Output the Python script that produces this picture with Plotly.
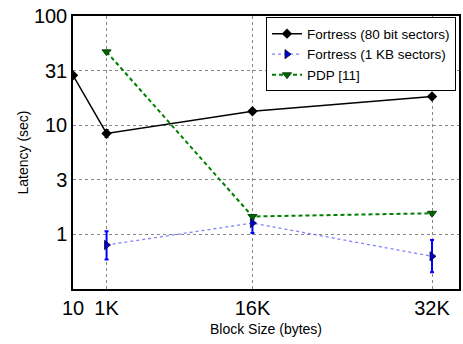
import plotly.graph_objects as go

# Data
x_labels = ["10", "1K", "16K", "32K"]
x_pos = [10, 3072, 16384, 32768]

fort80_x = [10, 3072, 16384, 32768]
fort80_y = [28.6, 8.4, 13.4, 18.3]
fort80_err = [0.8, 0.7, 0.3, 0.4]

fort1k_x = [3072, 16384, 32768]
fort1k_y = [0.80, 1.27, 0.63]
fort1k_hi = [1.07, 1.38, 0.89]
fort1k_lo = [0.59, 1.03, 0.45]

pdp_x = [3072, 16384, 32768]
pdp_y = [47.0, 1.46, 1.56]
pdp_err = [1.5, 0.05, 0.05]

FONT = "Liberation Sans, Arial, Helvetica, sans-serif"

fig = go.Figure()
fig.add_trace(go.Scatter(
    x=fort80_x, y=fort80_y, name="Fortress (80 bit sectors)",
    mode="lines+markers",
    line=dict(color="black", width=1.5),
    marker=dict(symbol="diamond", size=8, color="black"),
    error_y=dict(type="data", array=fort80_err, color="black", thickness=1, width=2),
))
fig.add_trace(go.Scatter(
    x=fort1k_x, y=fort1k_y, name="Fortress (1 KB sectors)",
    mode="lines+markers",
    line=dict(color="rgba(90,90,255,0.75)", width=1.3, dash="dot"),
    marker=dict(symbol="triangle-right", size=8, color="#0000cc",
                line=dict(color="#000033", width=0.8)),
    error_y=dict(type="data", symmetric=False,
                 array=[h - v for h, v in zip(fort1k_hi, fort1k_y)],
                 arrayminus=[v - l for l, v in zip(fort1k_lo, fort1k_y)],
                 color="#0000ff", thickness=2, width=2),
))
fig.add_trace(go.Scatter(
    x=pdp_x, y=pdp_y, name="PDP [11]",
    mode="lines+markers",
    line=dict(color="#008000", width=2, dash="4px,3px"),
    marker=dict(symbol="triangle-down", size=8, color="#006400",
                line=dict(color="#003300", width=0.8)),
    error_y=dict(type="data", array=pdp_err, color="#008000", thickness=1, width=2),
))

fig.update_layout(
    width=463, height=344,
    margin=dict(l=73, r=4, t=16, b=55, autoexpand=False),
    plot_bgcolor="white", paper_bgcolor="white",
    font=dict(family=FONT, color="black"),
    showlegend=True,
    legend=dict(x=0.5, xanchor="left", y=0.995, yanchor="top",
                bordercolor="black", borderwidth=1, bgcolor="white",
                font=dict(size=13.5, family=FONT), tracegroupgap=0,
                itemwidth=30),
)
fig.update_xaxes(
    range=[10, 35230], automargin=False,
    tickmode="array", tickvals=x_pos, ticktext=x_labels,
    tickfont=dict(size=20, family=FONT),
    showgrid=True, gridcolor="#888888", griddash="dot", gridwidth=1,
    showline=True, linecolor="black", linewidth=1.5, mirror=True,
    zeroline=False, ticks="", ticklabeloverflow="allow",
    title=dict(text="Block Size (bytes)", font=dict(size=14, family=FONT), standoff=6),
)
fig.update_yaxes(
    type="log", range=[-0.5, 2], automargin=False,
    tickmode="array", tickvals=[1, 10**0.5, 10, 10**1.5, 100],
    ticktext=["1", "3", "10", "31", "100"],
    tickfont=dict(size=20, family=FONT),
    showgrid=True, gridcolor="#888888", griddash="dot", gridwidth=1,
    showline=True, linecolor="black", linewidth=1.5, mirror=True,
    zeroline=False, ticks="", ticklabeloverflow="allow",
    title=dict(text="Latency (sec)", font=dict(size=14, family=FONT), standoff=2),
)

fig.write_html("out.html", config={"displayModeBar": False},
               post_script="document.body.style.margin='0';document.body.style.padding='0';")
